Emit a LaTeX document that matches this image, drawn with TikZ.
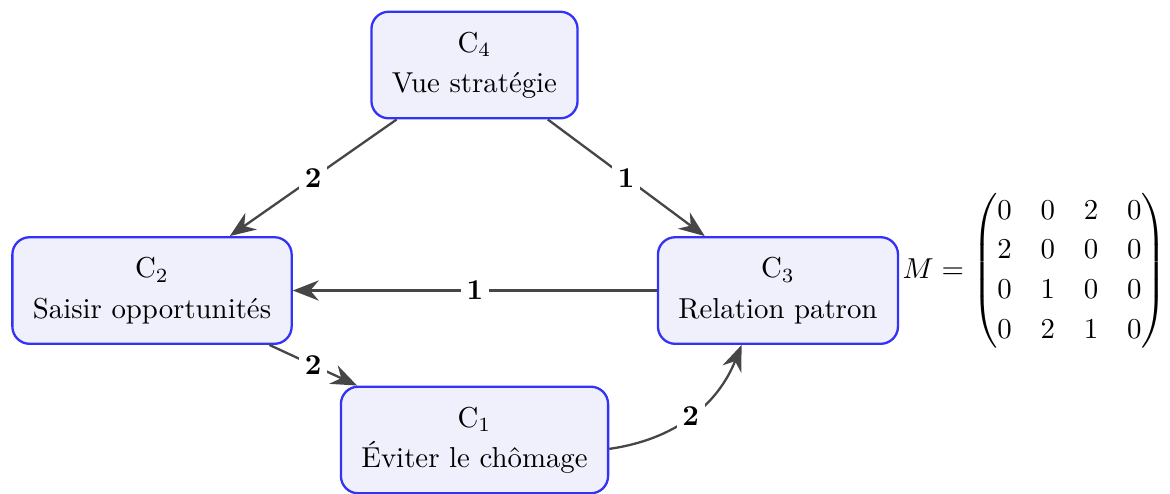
\documentclass[tikz,border=0pt]{standalone}
\usepackage{amsmath}
\usepackage{amssymb}
\usepackage{xcolor}
\usepackage{tikz}
\usetikzlibrary{shapes,arrows.meta,positioning}
\definecolor{boxblue}{RGB}{51,51,245}
\definecolor{boxfill}{RGB}{240,240,252}
\definecolor{edgegray}{RGB}{70,70,70}

\begin{document}
\begin{tikzpicture}[
    concept/.style={draw=boxblue, thick, fill=boxfill, rounded corners=6pt, align=center,
                    inner xsep=0.25cm, minimum height=1.3cm, on grid},
    link/.style={-{Stealth[length=9pt,width=7pt]}, thick, edgegray},
    weight/.style={fill=white, inner sep=2pt, font=\bfseries, text=black}
  ]
  \useasboundingbox (-5.787,0.793) rectangle (8.482,-5.220);

  \node[concept] (c4) at (0,0) {C$_4$\\[2pt] Vue stratégie};
  \node[concept, below left=2.75cm and 3.933cm of c4] (c2) {C$_2$\\[2pt] Saisir opportunités};
  \node[concept, below right=2.75cm and 3.701cm of c4] (c3) {C$_3$\\[2pt] Relation patron};
  \node[concept, below=4.573cm of c4] (c1) {C$_1$\\[2pt] Éviter le chômage};
  \node[right=0pt of c3, yshift=0.24cm, inner sep=1pt] (mat)
    {\renewcommand{\arraystretch}{1.15}%
     $M = \begin{pmatrix} 0 & 0 & 2 & 0\\ 2 & 0 & 0 & 0\\ 0 & 1 & 0 & 0\\ 0 & 2 & 1 & 0 \end{pmatrix}$};

  \draw[link] (c4) -- node[weight] {2} (c2);
  \draw[link] (c4) -- node[weight] {1} (c3);
  \draw[link] (c3) -- node[weight] {1} (c2);
  \draw[link] (c2) -- node[weight] {2} (c1);
  \draw[link] (c1) to[bend right] node[weight] {2} (c3);
\end{tikzpicture}
\end{document}
